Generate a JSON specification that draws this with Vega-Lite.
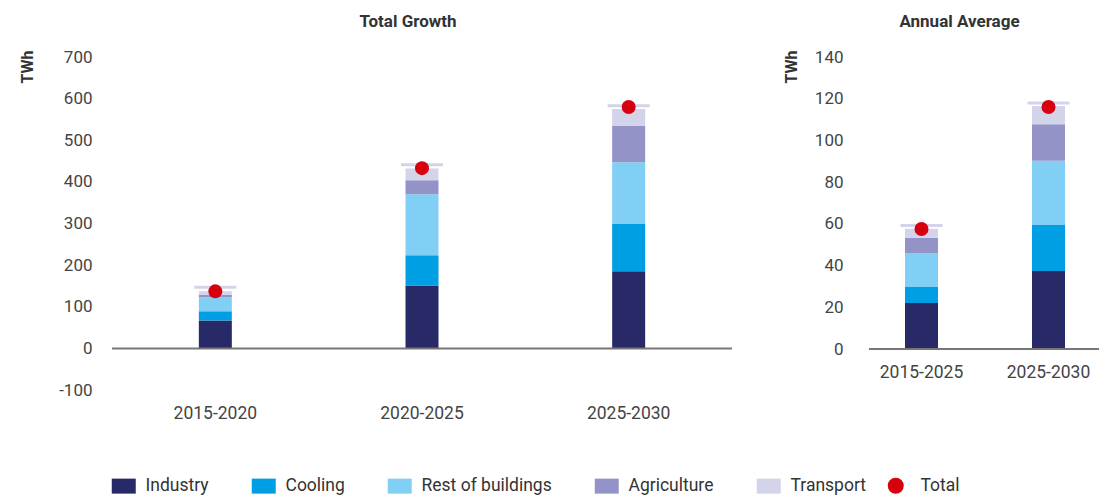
{
  "$schema": "https://vega.github.io/schema/vega-lite/v6.json",
  "padding": {"left": 19, "top": 13, "right": 0, "bottom": 0},
  "config": {
    "view": {"stroke": null},
    "font": "Roboto",
    "title": {"fontSize": 17, "fontWeight": "bold", "color": "#333333", "font": "Roboto", "anchor": "middle"}
  },
  "datasets": {
    "left": [
      {"period": "2015-2020", "category": "Industry", "ord": 1, "value": 67},
      {"period": "2015-2020", "category": "Cooling", "ord": 2, "value": 22},
      {"period": "2015-2020", "category": "Rest of buildings", "ord": 3, "value": 34},
      {"period": "2015-2020", "category": "Agriculture", "ord": 4, "value": 6},
      {"period": "2015-2020", "category": "Transport", "ord": 5, "value": 8},
      {"period": "2020-2025", "category": "Industry", "ord": 1, "value": 151},
      {"period": "2020-2025", "category": "Cooling", "ord": 2, "value": 73},
      {"period": "2020-2025", "category": "Rest of buildings", "ord": 3, "value": 146},
      {"period": "2020-2025", "category": "Agriculture", "ord": 4, "value": 34},
      {"period": "2020-2025", "category": "Transport", "ord": 5, "value": 28},
      {"period": "2025-2030", "category": "Industry", "ord": 1, "value": 185},
      {"period": "2025-2030", "category": "Cooling", "ord": 2, "value": 115},
      {"period": "2025-2030", "category": "Rest of buildings", "ord": 3, "value": 147},
      {"period": "2025-2030", "category": "Agriculture", "ord": 4, "value": 87},
      {"period": "2025-2030", "category": "Transport", "ord": 5, "value": 41}
    ],
    "leftTot": [
      {"period": "2015-2020", "total": 137, "cap": 147},
      {"period": "2020-2025", "total": 433, "cap": 441},
      {"period": "2025-2030", "total": 580, "cap": 583}
    ],
    "right": [
      {"period": "2015-2025", "category": "Industry", "ord": 1, "value": 22},
      {"period": "2015-2025", "category": "Cooling", "ord": 2, "value": 8},
      {"period": "2015-2025", "category": "Rest of buildings", "ord": 3, "value": 16},
      {"period": "2015-2025", "category": "Agriculture", "ord": 4, "value": 7.3},
      {"period": "2015-2025", "category": "Transport", "ord": 5, "value": 4.4},
      {"period": "2025-2030", "category": "Industry", "ord": 1, "value": 37.4},
      {"period": "2025-2030", "category": "Cooling", "ord": 2, "value": 22.3},
      {"period": "2025-2030", "category": "Rest of buildings", "ord": 3, "value": 30.6},
      {"period": "2025-2030", "category": "Agriculture", "ord": 4, "value": 17.5},
      {"period": "2025-2030", "category": "Transport", "ord": 5, "value": 8.7}
    ],
    "rightTot": [
      {"period": "2015-2025", "total": 57.5, "cap": 59.2},
      {"period": "2025-2030", "total": 116, "cap": 118}
    ]
  },
  "spacing": 50,
  "resolve": {"scale": {"color": "shared", "shape": "shared"}},
  "hconcat": [
    {
      "width": 620,
      "height": 333,
      "title": {"text": "Total Growth", "dx": -14, "offset": 17},
      "layer": [
        {
          "data": {"name": "left"},
          "mark": {"type": "bar", "width": 33},
          "encoding": {
            "x": {"field": "period", "type": "nominal", "title": null,
              "scale": {"paddingInner": 0, "paddingOuter": 0},
              "axis": {"labelAngle": 0, "domain": false, "ticks": false, "labelPadding": 14, "labelFontSize": 17.5, "labelColor": "#444444", "labelFont": "Roboto"}},
            "y": {"field": "value", "type": "quantitative", "stack": "zero",
              "scale": {"domain": [-100, 700], "nice": false},
              "axis": {"values": [-100, 0, 100, 200, 300, 400, 500, 600, 700], "labelExpr": "'' + datum.value", "domain": false, "ticks": false, "grid": false,
                "labelPadding": 20, "labelFontSize": 17, "labelColor": "#444444", "labelFont": "Roboto",
                "title": "TWh", "titleAngle": -90, "titleX": -85, "titleY": -7, "titleAlign": "right", "titleBaseline": "middle",
                "titleFontSize": 16, "titleFontWeight": "bold", "titleColor": "#333333"}},
            "color": {"field": "category", "type": "nominal",
              "scale": {"domain": ["Industry", "Cooling", "Rest of buildings", "Agriculture", "Transport"],
                "range": ["#282a68", "#009fe3", "#82cff5", "#9393c8", "#d3d3ea"]},
              "legend": {"orient": "none", "legendX": 3, "legendY": 420, "direction": "horizontal", "title": null,
                "symbolType": "M-1.6,-1H1.6V1H-1.6Z", "symbolSize": 225, "symbolStrokeWidth": 0,
                "labelFontSize": 17.5, "labelColor": "#333333", "labelFont": "Roboto", "labelOffset": 13, "columnPadding": 42}},
            "order": {"field": "ord", "type": "quantitative"}
          }
        },
        {
          "data": {"name": "leftTot"},
          "mark": {"type": "tick", "thickness": 3, "size": 42, "color": "#d3d3ea", "opacity": 1},
          "encoding": {
            "x": {"field": "period", "type": "nominal"},
            "y": {"field": "cap", "type": "quantitative"}
          }
        },
        {
          "data": {"values": [{}]},
          "mark": {"type": "rule", "color": "#777777", "strokeWidth": 2},
          "encoding": {"y": {"datum": 0}}
        },
        {
          "data": {"name": "leftTot"},
          "mark": {"type": "point", "filled": true, "size": 196, "color": "#d7000f", "opacity": 1},
          "encoding": {
            "x": {"field": "period", "type": "nominal"},
            "y": {"field": "total", "type": "quantitative"},
            "shape": {"datum": "Total", "scale": {"range": ["circle"]},
              "legend": {"orient": "none", "legendX": 775, "legendY": 420, "title": null, "symbolSize": 256,
                "symbolFillColor": "#d7000f", "symbolStrokeWidth": 0,
                "labelFontSize": 17.5, "labelColor": "#333333", "labelFont": "Roboto", "labelOffset": 16}}
          }
        }
      ]
    },
    {
      "width": 231,
      "height": 292,
      "title": {"text": "Annual Average", "dx": -25, "offset": 17},
      "layer": [
        {
          "data": {"name": "right"},
          "mark": {"type": "bar", "width": 33},
          "encoding": {
            "x": {"field": "period", "type": "nominal", "title": null,
              "scale": {"paddingInner": 0, "paddingOuter": 0, "range": [-11, 243]},
              "axis": {"labelAngle": 0, "domain": false, "ticks": false, "labelPadding": 14, "labelFontSize": 17.5, "labelColor": "#444444", "labelFont": "Roboto"}},
            "y": {"field": "value", "type": "quantitative", "stack": "zero",
              "scale": {"domain": [0, 140], "nice": false},
              "axis": {"values": [0, 20, 40, 60, 80, 100, 120, 140], "domain": false, "ticks": false, "grid": false,
                "labelPadding": 26, "labelFontSize": 17, "labelColor": "#444444", "labelFont": "Roboto",
                "title": "TWh", "titleAngle": -90, "titleX": -78, "titleY": -7, "titleAlign": "right", "titleBaseline": "middle",
                "titleFontSize": 16, "titleFontWeight": "bold", "titleColor": "#333333"}},
            "color": {"field": "category", "type": "nominal"},
            "order": {"field": "ord", "type": "quantitative"}
          }
        },
        {
          "data": {"name": "rightTot"},
          "mark": {"type": "tick", "thickness": 3, "size": 42, "color": "#d3d3ea", "opacity": 1},
          "encoding": {
            "x": {"field": "period", "type": "nominal"},
            "y": {"field": "cap", "type": "quantitative"}
          }
        },
        {
          "data": {"values": [{}]},
          "mark": {"type": "rule", "color": "#777777", "strokeWidth": 2},
          "encoding": {"y": {"datum": 0}}
        },
        {
          "data": {"name": "rightTot"},
          "mark": {"type": "point", "filled": true, "size": 196, "color": "#d7000f", "opacity": 1},
          "encoding": {
            "x": {"field": "period", "type": "nominal"},
            "y": {"field": "total", "type": "quantitative"},
            "shape": {"datum": "Total"}
          }
        }
      ]
    }
  ]
}
